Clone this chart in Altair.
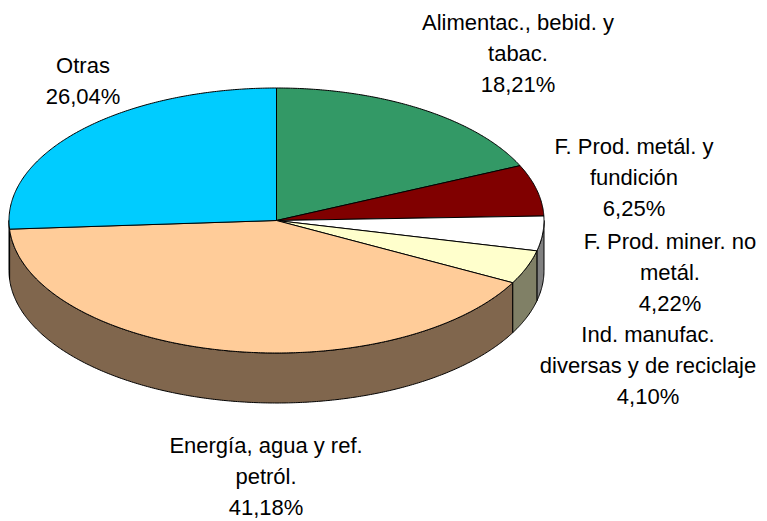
import math

import altair as alt
import pandas as pd

# Sector shares (%), listed clockwise from 12 o'clock
categories = [
    "Alimentac., bebid. y tabac.",
    "F. Prod. metál. y fundición",
    "F. Prod. miner. no metál.",
    "Ind. manufac. diversas y de reciclaje",
    "Energía, agua y ref. petról.",
    "Otras",
]
shares = [18.21, 6.25, 4.22, 4.10, 41.18, 26.04]

# Wrapped label text for each sector
label_lines = [
    ["Alimentac., bebid. y", "tabac."],
    ["F. Prod. metál. y", "fundición"],
    ["F. Prod. miner. no", "metál."],
    ["Ind. manufac.", "diversas y de reciclaje"],
    ["Energía, agua y ref.", "petról."],
    ["Otras"],
]

# Top-face colours and the darker shade used for the visible rim
face_colors = ["#339966", "#800000", "#FFFFFF", "#FFFFCC", "#FFCC99", "#00CCFF"]
rim_colors = ["#1A4D33", "#400000", "#808080", "#808066", "#80664D", "#006680"]

# Layout of the tilted pie (pixel units of the canvas)
W, H = 767, 521
CX, CY = 276.5, 220.5
RX, RY = 267.5, 132.5
DEPTH = 50

# Label anchors: horizontal centre and first-line centre
label_x = [518, 634, 670, 648, 266, 83]
label_y = [23, 147, 242, 335, 446, 66]
LINE_STEP = 31


def rim_point(deg, drop=0.0):
    t = math.radians(deg)
    return CX + RX * math.sin(t), CY - RY * math.cos(t) + drop


def arc(a, b, drop=0.0):
    n = max(2, int(math.ceil(abs(b - a) / 0.5)) + 1)
    return [rim_point(a + (b - a) * i / (n - 1), drop) for i in range(n)]


face_rows, rim_rows = [], []
start = 0.0
for i, share in enumerate(shares):
    end = start + share * 3.6
    pts = [(CX, CY)] + arc(start, end)
    for k, (x, y) in enumerate(pts):
        face_rows.append({"piece": f"face{i}", "k": k, "x": x, "y": y, "fill": face_colors[i]})
    lo, hi = max(start, 90.0), min(end, 270.0)
    if hi > lo:
        pts = arc(lo, hi) + arc(hi, lo, DEPTH)
        for k, (x, y) in enumerate(pts):
            rim_rows.append({"piece": f"rim{i}", "k": k, "x": x, "y": y, "fill": rim_colors[i]})
    start = end

text_rows = []
for i, lines in enumerate(label_lines):
    pct = f"{shares[i]:.2f}".replace(".", ",") + "%"
    for j, line in enumerate(lines + [pct]):
        text_rows.append({"x": label_x[i], "y": label_y[i] + j * LINE_STEP, "text": line})

xs = alt.Scale(domain=[0, W], nice=False, zero=False)
ys = alt.Scale(domain=[0, H], nice=False, zero=False, reverse=True)


def pieces(rows):
    return (
        alt.Chart(pd.DataFrame(rows))
        .mark_line(interpolate="linear-closed", stroke="black", strokeWidth=1, strokeJoin="round")
        .encode(
            x=alt.X("x:Q", scale=xs, axis=None),
            y=alt.Y("y:Q", scale=ys, axis=None),
            order="k:Q",
            detail="piece:N",
            fill=alt.Fill("fill:N", scale=None),
        )
    )


labels = (
    alt.Chart(pd.DataFrame(text_rows))
    .mark_text(font="Liberation Sans", fontSize=22, color="black", align="center", baseline="middle")
    .encode(
        x=alt.X("x:Q", scale=xs, axis=None),
        y=alt.Y("y:Q", scale=ys, axis=None),
        text="text:N",
    )
)

chart = (
    alt.layer(pieces(rim_rows), pieces(face_rows), labels)
    .properties(width=W, height=H, padding=0, autosize="none", background="white")
    .configure_view(stroke=None)
)

chart.save("out.html", embed_options={"renderer": "svg", "actions": False})
